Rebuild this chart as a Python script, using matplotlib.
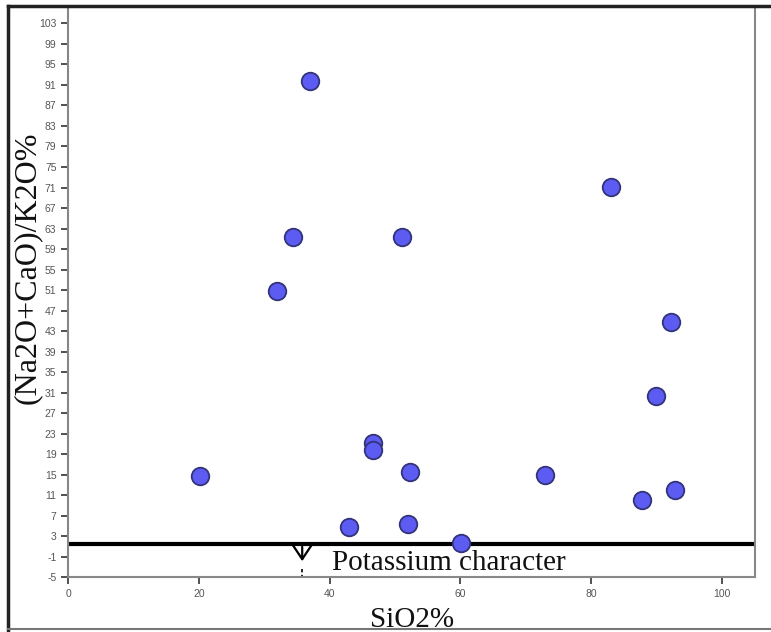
import numpy as np
import matplotlib
matplotlib.use("Agg")
import matplotlib.pyplot as plt
from matplotlib.lines import Line2D

plt.rcParams["axes.unicode_minus"] = False

# SiO2% vs (Na2O+CaO)/K2O%
sio2 = [37.0, 34.4, 51.1, 31.9, 20.2, 46.6, 46.6, 52.3, 43.0, 52.0, 60.1,
        73.0, 83.1, 92.3, 90.0, 87.8, 92.9]
ratio = [91.7, 61.3, 61.3, 50.9, 14.8, 21.2, 19.8, 15.5, 4.8, 5.4, 1.7,
         14.9, 71.1, 44.8, 30.4, 10.1, 12.0]

boundary = 1.5       # potassium character limit
arrow_x = 35.8
yticks = list(range(-5, 104, 4))
xticks = [0, 20, 40, 60, 80, 100]

serif = ["Liberation Serif", "DejaVu Serif"]

fig = plt.figure(figsize=(7.71, 6.32), dpi=100)
ax = fig.add_axes([68.3 / 771, 1 - 577.3 / 632, (755 - 68.3) / 771, (577.3 - 7) / 632])

ax.set_xlim(0, 105.1)
ax.set_ylim(-5, 106.2)

ax.scatter(sio2, ratio, s=160, c="#5c5cf2", edgecolors="#33337a", linewidths=1.3, zorder=3)

ax.axhline(boundary, color="black", lw=3, zorder=2)
ax.annotate("", xy=(arrow_x, -2.4), xytext=(arrow_x, boundary),
            arrowprops=dict(arrowstyle="->,head_length=0.45,head_width=0.3",
                            color="black", lw=1.6, mutation_scale=24))
ax.plot([arrow_x, arrow_x], [-3.3, -5], color="black", lw=1.2, ls=(0, (2, 1.5)))
ax.text(40.3, -2.2, "Potassium character", family=serif, fontsize=21,
        ha="left", va="center", color="#111111")

ax.set_xticks(xticks)
ax.set_yticks(yticks)
ax.tick_params(axis="both", labelsize=7.5, labelcolor="#555555", color="#333333",
               direction="out", length=5, width=1.2)
for lab in ax.get_xticklabels() + ax.get_yticklabels():
    lab.set_family("Liberation Sans")

for side in ["left", "bottom", "right"]:
    ax.spines[side].set_color("#888888")
    ax.spines[side].set_linewidth(1.5)
ax.spines["top"].set_visible(False)

ax.set_xlabel("SiO2%", family=serif, fontsize=21, color="#111111", labelpad=6)
fig.text(27 / 771, 1 - 268 / 632, "(Na2O+CaO)/K2O%", family=serif, fontsize=23,
         rotation=90, ha="center", va="center", color="#111111")

# outer frame of the original figure
fig.add_artist(Line2D([8 / 771, 1], [1 - 6 / 632] * 2, color="#222222", lw=2.5))
fig.add_artist(Line2D([8 / 771] * 2, [1 - 6 / 632, 1 - 630 / 632], color="#222222", lw=2.5))
fig.add_artist(Line2D([8 / 771, 1], [1 - 629 / 632] * 2, color="#777777", lw=1.5))

fig.savefig("out.png", dpi=100)
